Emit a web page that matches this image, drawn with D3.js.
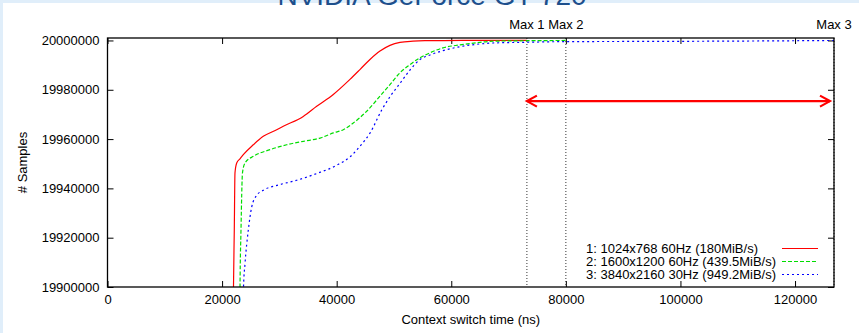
<!DOCTYPE html>
<html>
<head>
<meta charset="utf-8">
<script src="https://cdn.jsdelivr.net/npm/d3@7"></script>
<style>
  body { margin: 0; background: #e0eefa; }
  text { font-family: "Liberation Sans", Arial, sans-serif; }
</style>
</head>
<body>
<div id="chart"></div>
<script>
// Chart data
var title = "NVIDIA GeForce GT 720";
var xTicks = [0, 20000, 40000, 60000, 80000, 100000, 120000];
var yTicks = [19900000, 19920000, 19940000, 19960000, 19980000, 20000000];
var seriesNames = ["1: 1024x768 60Hz (180MiB/s)", "2: 1600x1200 60Hz (439.5MiB/s)", "3: 3840x2160 30Hz (949.2MiB/s)"];
var maxNames = ["Max 1", "Max 2", "Max 3"];
var maxValues = [73200, 80000, 126800];
var arrowTimes = [73200, 126100];
var arrowSamples = 19975400;

var redTime = [21950, 21990, 22130, 22250, 22550, 23120, 23700, 25450, 27190, 29530, 30680, 34170, 36510, 39410, 42320, 44060, 45810, 47560, 49300, 51050, 53320, 55400, 57900, 61900, 73200];
var redSamples = [19890000, 19900000, 19923200, 19946300, 19950300, 19952000, 19953700, 19957700, 19961100, 19963800, 19965200, 19969200, 19973300, 19978100, 19984200, 19988200, 19992300, 19995700, 19998000, 19999200, 19999700, 19999900, 19999960, 20000000, 20000000];

var greenTime = [23120, 23130, 23300, 23560, 24000, 25450, 28360, 31270, 34170, 37090, 39410, 41150, 42900, 45240, 47560, 49300, 51050, 52790, 54540, 56280, 58550, 61520, 64490, 67280, 73200, 80000];
var greenSamples = [19890000, 19900000, 19923200, 19946300, 19950300, 19953000, 19955700, 19957700, 19959100, 19960400, 19962500, 19963800, 19966500, 19971300, 19977400, 19982100, 19986900, 19990200, 19993000, 19995000, 19997000, 19998200, 19999100, 19999700, 19999900, 20000000];

var blueTime = [23700, 23740, 24000, 24570, 25170, 26040, 27190, 30100, 33020, 36510, 40000, 42320, 44060, 45810, 47850, 49300, 51050, 52790, 54540, 56280, 58550, 61520, 64490, 67280, 73200, 79000, 100000, 114000, 126800];
var blueSamples = [19890000, 19900000, 19909430, 19922970, 19932440, 19937200, 19939230, 19941550, 19943290, 19946020, 19949390, 19952770, 19957110, 19962400, 19971750, 19977150, 19982600, 19988010, 19992280, 19994110, 19995850, 19997480, 19998460, 19998980, 19999270, 19999510, 19999650, 19999800, 20000000];

var seriesTime = [redTime, greenTime, blueTime];
var seriesSamples = [redSamples, greenSamples, blueSamples];
var seriesColors = ["#ff0000", "#00dd00", "#0000ff"];
var seriesDash = [null, "4,2", "2,3"];

// Set the dimensions and margins
var w = 859, h = 333;
var margin = {top: 38, right: 25, bottom: 46, left: 107.5};
var width = w - margin.left - margin.right;
var height = h - margin.top - margin.bottom;

var root = d3.select("#chart")
  .append("svg")
    .attr("width", w)
    .attr("height", h);

// page background (slide look)
root.append("rect")
  .attr("width", w).attr("height", h)
  .attr("fill", "#e0eefa");
root.append("rect")
  .attr("x", 3).attr("y", 3)
  .attr("width", w - 3).attr("height", h - 3)
  .attr("fill", "#ffffff");

// cut-off slide title
root.append("text")
  .attr("x", 432)
  .attr("y", 5)
  .attr("text-anchor", "middle")
  .attr("font-size", "28px")
  .attr("fill", "#1d4f8c")
  .text(title);

var svg = root.append("g")
  .attr("transform", "translate(" + margin.left + "," + margin.top + ")");

var x = d3.scaleLinear()
  .domain([0, 126800])
  .range([0, width]);

var y = d3.scaleLinear()
  .domain([19900000, 20001000])
  .range([height, 0]);

svg.append("defs").append("clipPath")
  .attr("id", "plotclip")
  .append("rect")
    .attr("width", width)
    .attr("height", height);

// X axis (bottom, labelled) and mirror (top)
var xb = svg.append("g")
  .attr("transform", "translate(0," + height + ")")
  .call(d3.axisBottom(x).tickValues(xTicks).tickFormat(d3.format("d")).tickSize(-6).tickSizeOuter(0).tickPadding(8));
svg.append("g")
  .call(d3.axisTop(x).tickValues(xTicks).tickFormat("").tickSize(-6).tickSizeOuter(0));

// Y axis (left, labelled) and mirror (right)
var yl = svg.append("g")
  .call(d3.axisLeft(y).tickValues(yTicks).tickFormat(d3.format("d")).tickSize(-6).tickSizeOuter(0).tickPadding(8));
svg.append("g")
  .attr("transform", "translate(" + width + ",0)")
  .call(d3.axisRight(y).tickValues(yTicks).tickFormat("").tickSize(-6).tickSizeOuter(0));

svg.selectAll(".domain").remove();
svg.selectAll(".tick line").attr("stroke", "#000");
svg.selectAll(".tick text")
  .attr("font-size", "13px")
  .attr("font-family", "Liberation Sans, Arial, sans-serif")
  .attr("fill", "#000");

// X axis label
svg.append("text")
  .attr("text-anchor", "middle")
  .attr("x", width / 2)
  .attr("y", height + 37)
  .attr("font-size", "13px")
  .text("Context switch time (ns)");

// Y axis label
svg.append("text")
  .attr("text-anchor", "middle")
  .attr("transform", "rotate(-90)")
  .attr("x", -height / 2)
  .attr("y", -81)
  .attr("font-size", "13px")
  .text("# Samples");

// Max marker lines and labels
svg.selectAll("maxline")
  .data(maxValues)
  .enter()
  .append("line")
    .attr("x1", function(d) { return x(d); })
    .attr("x2", function(d) { return x(d); })
    .attr("y1", 0)
    .attr("y2", height)
    .attr("stroke", "#333")
    .attr("stroke-width", 1)
    .attr("stroke-dasharray", "1,2");

svg.selectAll("maxlabel")
  .data(maxValues)
  .enter()
  .append("text")
    .attr("x", function(d) { return x(d); })
    .attr("y", -9)
    .attr("text-anchor", "middle")
    .attr("font-size", "13px")
    .text(function(d, i) { return maxNames[i]; });

// Curves
var line = d3.line()
  .x(function(d) { return x(d[0]); })
  .y(function(d) { return y(d[1]); })
  .curve(d3.curveMonotoneX);

var plot = svg.append("g").attr("clip-path", "url(#plotclip)");
seriesTime.forEach(function(times, i) {
  var pts = times.map(function(t, j) { return [t, seriesSamples[i][j]]; });
  plot.append("path")
    .datum(pts)
    .attr("fill", "none")
    .attr("stroke", seriesColors[i])
    .attr("stroke-width", 1.2)
    .attr("stroke-dasharray", seriesDash[i])
    .attr("d", line);
});

// Double-headed arrow between Max 1 and Max 3
var ax1 = x(arrowTimes[0]), ax2 = x(arrowTimes[1]), ay = y(arrowSamples);
var arrow = svg.append("g")
  .attr("stroke", "#ff0000")
  .attr("stroke-width", 2.2)
  .attr("fill", "none");
arrow.append("line")
  .attr("x1", ax1).attr("x2", ax2)
  .attr("y1", ay).attr("y2", ay);
arrow.append("path")
  .attr("d", "M" + (ax1 + 10) + "," + (ay - 5.5) + "L" + ax1 + "," + ay + "L" + (ax1 + 10) + "," + (ay + 5.5));
arrow.append("path")
  .attr("d", "M" + (ax2 - 10) + "," + (ay - 5.5) + "L" + ax2 + "," + ay + "L" + (ax2 - 10) + "," + (ay + 5.5));

// Legend
var legend = svg.selectAll("legend")
  .data(seriesNames)
  .enter()
  .append("g")
    .attr("transform", function(d, i) { return "translate(0," + (210.5 + i * 13) + ")"; });
legend.append("text")
  .attr("x", 478.5)
  .attr("dy", "0.35em")
  .attr("font-size", "13px")
  .text(function(d) { return d; });
legend.append("line")
  .attr("x1", 674.5).attr("x2", 710.5)
  .attr("y1", 0).attr("y2", 0)
  .attr("stroke", function(d, i) { return seriesColors[i]; })
  .attr("stroke-width", 1.2)
  .attr("stroke-dasharray", function(d, i) { return seriesDash[i]; });

// Frame
svg.append("rect")
  .attr("width", width)
  .attr("height", height)
  .attr("fill", "none")
  .attr("stroke", "#000")
  .attr("stroke-width", 1.3);
</script>
</body>
</html>
